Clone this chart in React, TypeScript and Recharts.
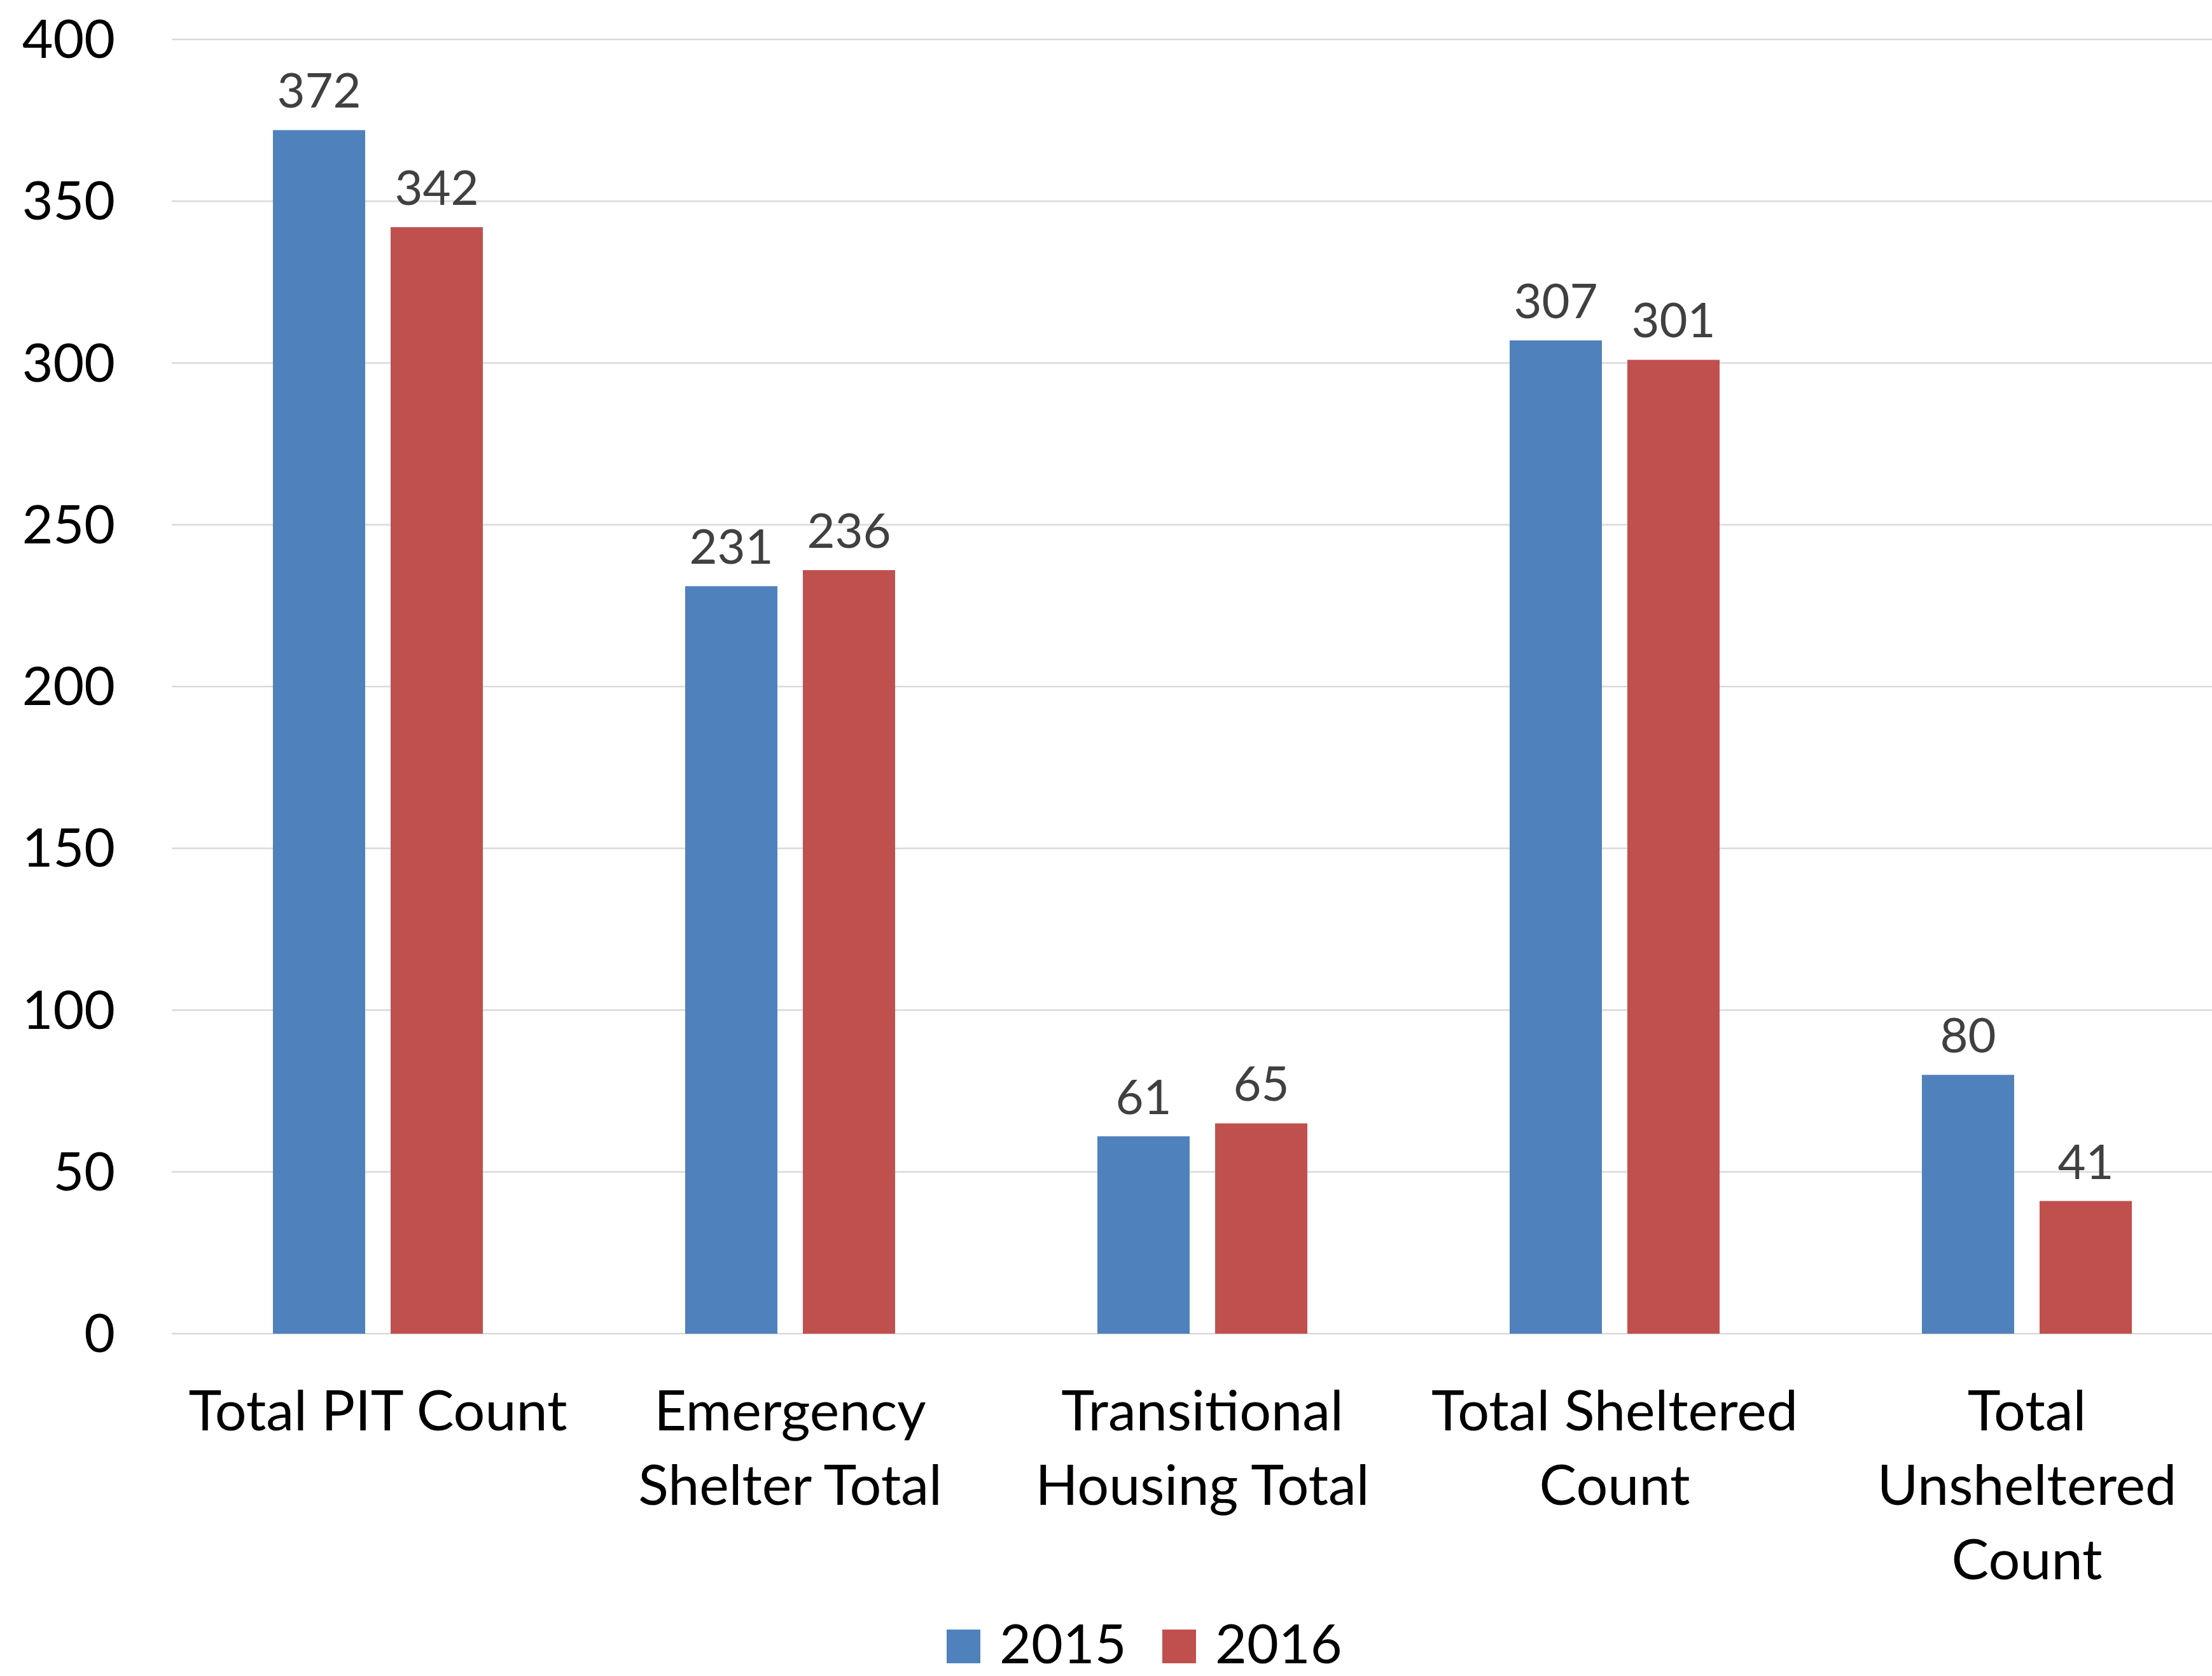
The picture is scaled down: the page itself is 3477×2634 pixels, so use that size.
import React from "react";
import { BarChart, Bar, XAxis, YAxis, CartesianGrid, Legend, LabelList } from "recharts";

const categories = [
  "Total PIT Count",
  "Emergency Shelter Total",
  "Transitional Housing Total",
  "Total Sheltered Count",
  "Total Unsheltered Count",
];
const categoryLines = [
  ["Total PIT Count"],
  ["Emergency", "Shelter Total"],
  ["Transitional", "Housing Total"],
  ["Total Sheltered", "Count"],
  ["Total", "Unsheltered", "Count"],
];
const values2015 = [372, 231, 61, 307, 80];
const values2016 = [342, 236, 65, 301, 41];
const yTicks = [0, 50, 100, 150, 200, 250, 300, 350, 400];
const seriesNames = ["2015", "2016"];
const colors = ["#4F81BD", "#C0504D"];

const data = categories.map((c, i) => ({
  name: c,
  v2015: values2015[i],
  v2016: values2016[i],
}));

const FONT = "Lato, 'Open Sans', sans-serif";

const XTick = (props: any) => {
  const { x, y, payload } = props;
  const idx = categories.indexOf(payload.value);
  const lines = idx >= 0 ? categoryLines[idx] : [String(payload.value)];
  return (
    <g>
      {lines.map((l, i) => (
        <text
          key={i}
          x={x}
          y={y + 152 + i * 117}
          textAnchor="middle"
          fontFamily={FONT}
          fontSize={88}
          fill="#000000"
        >
          {l}
        </text>
      ))}
    </g>
  );
};

const YTick = (props: any) => {
  const { x, y, payload } = props;
  return (
    <text x={x} y={y + 29} textAnchor="end" fontFamily={FONT} fontSize={84} fill="#000000">
      {payload.value}
    </text>
  );
};

const makeLabel = (props: any) => {
  const { x, y, width, value } = props;
  return (
    <text
      x={x + width / 2}
      y={y - 35}
      textAnchor="middle"
      fontFamily={FONT}
      fontSize={76}
      fill="#404040"
    >
      {value}
    </text>
  );
};

const LegendContent = () => {
  const items = [
    { sx: 1488, tx: 1571 },
    { sx: 1827, tx: 1910 },
  ];
  return (
    <svg width={3510} height={138} style={{ display: "block", overflow: "visible" }}>
      {items.map((it, i) => (
        <g key={i}>
          <rect x={it.sx} y={65} width={53} height={53} fill={colors[i]} />
          <text x={it.tx} y={118} fontFamily={FONT} fontSize={86} fill="#000000">
            {seriesNames[i]}
          </text>
        </g>
      ))}
    </svg>
  );
};

export default function App() {
  return (
    <div
      style={{
        position: "absolute",
        left: 0,
        top: 0,
        width: 3477,
        height: 2634,
        overflow: "hidden",
        background: "#ffffff",
      }}
    >
      <BarChart
        width={3510}
        height={2634}
        data={data}
        margin={{ top: 62, right: 0, bottom: 0, left: 0 }}
        barGap={40}
      >
        <CartesianGrid horizontal={true} vertical={false} stroke="#D9D9D9" strokeWidth={2.5} />
        <XAxis
          dataKey="name"
          axisLine={false}
          tickLine={false}
          tickSize={0}
          tickMargin={0}
          height={400}
          interval={0}
          tick={<XTick />}
        />
        <YAxis
          width={270}
          domain={[0, 400]}
          ticks={yTicks}
          axisLine={false}
          tickLine={false}
          tickSize={0}
          tickMargin={89}
          tick={<YTick />}
          interval={0}
        />
        <Legend verticalAlign="bottom" height={138} content={<LegendContent />} />
        <Bar dataKey="v2015" name={seriesNames[0]} fill={colors[0]} barSize={145} isAnimationActive={false}>
          <LabelList dataKey="v2015" content={makeLabel} />
        </Bar>
        <Bar dataKey="v2016" name={seriesNames[1]} fill={colors[1]} barSize={145} isAnimationActive={false}>
          <LabelList dataKey="v2016" content={makeLabel} />
        </Bar>
      </BarChart>
    </div>
  );
}
